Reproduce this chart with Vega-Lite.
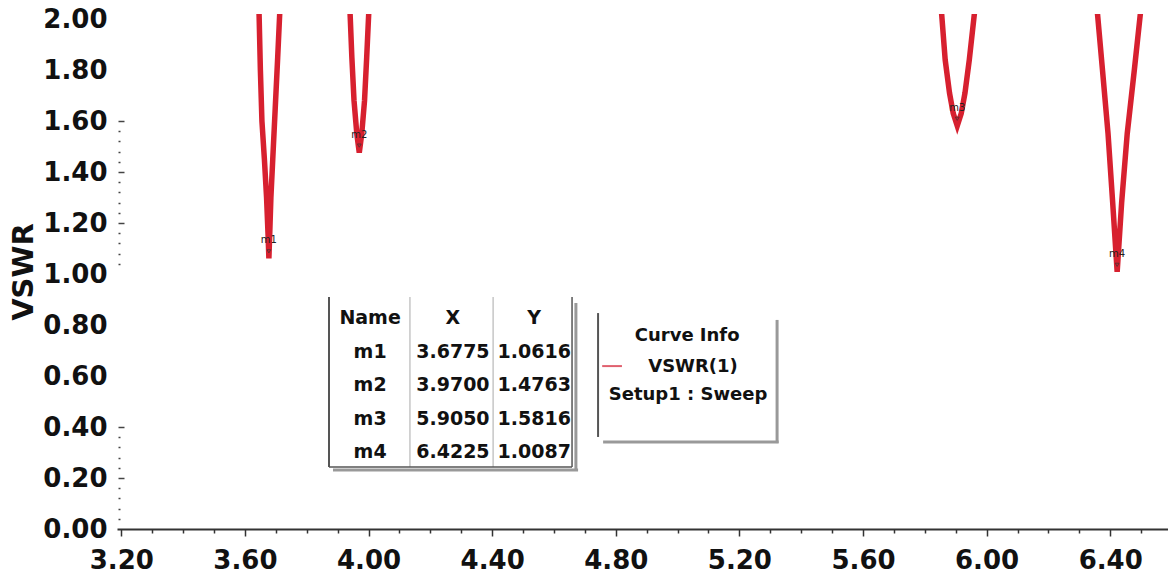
{
  "$schema": "https://vega.github.io/schema/vega-lite/v6.json",
  "width": 1051,
  "height": 515,
  "autosize": {"type": "none"},
  "padding": {"left": 117, "top": 14, "right": 0, "bottom": 54},
  "background": "white",
  "config": {
    "view": {"stroke": null},
    "axisX": {
      "orient": "bottom",
      "values": [3.2, 3.3333, 3.4667, 3.6, 3.7333, 3.8667, 4.0, 4.1333, 4.2667, 4.4, 4.5333, 4.6667, 4.8, 4.9333, 5.0667, 5.2, 5.3333, 5.4667, 5.6, 5.7333, 5.8667, 6.0, 6.1333, 6.2667, 6.4, 6.5333],
      "labelExpr": "abs(datum.value / 0.4 - round(datum.value / 0.4)) < 0.001 ? format(datum.value, '.2f') : ''",
      "title": null, "grid": false,
      "labelFont": "DejaVu Sans", "labelFontWeight": "bold", "labelFontSize": 26, "labelColor": "#111",
      "labelPadding": 11, "labelOverlap": false, "labelFlush": false, "labelBound": false,
      "tickColor": "#333", "tickWidth": 1.5,
      "tickSize": {"condition": {"test": "abs(datum.value / 0.4 - round(datum.value / 0.4)) < 0.001", "value": 7}, "value": 4},
      "domainColor": "#333", "domainWidth": 2
    }
  },
  "datasets": {
    "sweep": [
      {"freq": 3.645, "vswr": 2.06}, {"freq": 3.65, "vswr": 1.8}, {"freq": 3.655, "vswr": 1.6},
      {"freq": 3.663, "vswr": 1.45}, {"freq": 3.67, "vswr": 1.3}, {"freq": 3.675, "vswr": 1.15},
      {"freq": 3.6775, "vswr": 1.0616}, {"freq": 3.68, "vswr": 1.15}, {"freq": 3.684, "vswr": 1.3},
      {"freq": 3.69, "vswr": 1.45}, {"freq": 3.698, "vswr": 1.65}, {"freq": 3.706, "vswr": 1.85},
      {"freq": 3.714, "vswr": 2.06},
      {"freq": 3.939, "vswr": 2.06}, {"freq": 3.946, "vswr": 1.85}, {"freq": 3.953, "vswr": 1.68},
      {"freq": 3.962, "vswr": 1.55}, {"freq": 3.97, "vswr": 1.4763}, {"freq": 3.978, "vswr": 1.55},
      {"freq": 3.987, "vswr": 1.68}, {"freq": 3.994, "vswr": 1.85}, {"freq": 4.002, "vswr": 2.06},
      {"freq": 5.852, "vswr": 2.06}, {"freq": 5.866, "vswr": 1.84}, {"freq": 5.88, "vswr": 1.71},
      {"freq": 5.892, "vswr": 1.63}, {"freq": 5.905, "vswr": 1.5816}, {"freq": 5.918, "vswr": 1.63},
      {"freq": 5.93, "vswr": 1.71}, {"freq": 5.944, "vswr": 1.84}, {"freq": 5.964, "vswr": 2.06},
      {"freq": 6.356, "vswr": 2.06}, {"freq": 6.375, "vswr": 1.8}, {"freq": 6.393, "vswr": 1.55},
      {"freq": 6.408, "vswr": 1.28}, {"freq": 6.4225, "vswr": 1.0087}, {"freq": 6.437, "vswr": 1.28},
      {"freq": 6.455, "vswr": 1.55}, {"freq": 6.478, "vswr": 1.8}, {"freq": 6.501, "vswr": 2.06}
    ],
    "markers": [
      {"name": "m1", "freq": 3.6775, "vswr": 1.0616},
      {"name": "m2", "freq": 3.97, "vswr": 1.4763},
      {"name": "m3", "freq": 5.905, "vswr": 1.5816},
      {"name": "m4", "freq": 6.4225, "vswr": 1.0087}
    ]
  },
  "layer": [
    {
      "resolve": {"axis": {"y": "independent"}},
      "layer": [
        {
          "data": {"name": "sweep"},
          "mark": {"type": "line", "color": "#d7202f", "strokeWidth": 5.5, "clip": true},
          "encoding": {
            "x": {
              "field": "freq", "type": "quantitative",
              "scale": {"domain": [3.186, 6.587], "nice": false, "zero": false}
            },
            "y": {
              "field": "vswr", "type": "quantitative",
              "scale": {"domain": [0, 2.02], "nice": false, "zero": false},
              "axis": {
                "values": [0, 0.2, 0.4, 0.6, 0.8, 1.0, 1.2, 1.4, 1.6, 1.8, 2.0],
                "format": ".2f", "title": "VSWR",
                "titleFont": "DejaVu Sans", "titleFontWeight": "bold", "titleFontSize": 29, "titleColor": "#111", "titlePadding": 4,
                "labelFont": "DejaVu Sans", "labelFontWeight": "bold", "labelFontSize": 26, "labelColor": "#111",
                "labelPadding": 10, "labelOverlap": false, "labelFlush": false, "labelBound": false,
                "ticks": false, "domain": false, "grid": false
              }
            }
          }
        },
        {
          "data": {"name": "markers"},
          "mark": {"type": "text", "font": "DejaVu Sans", "fontSize": 10, "color": "#222", "dy": -18},
          "encoding": {
            "x": {"field": "freq", "type": "quantitative"},
            "y": {
              "field": "vswr", "type": "quantitative",
              "axis": {
                "orient": "left", "title": null, "labels": false, "domain": false, "grid": false,
                "values": [0.04, 0.08, 0.12, 0.16, 0.2, 0.24, 0.28, 0.32, 0.36, 0.4, 1.04, 1.08, 1.12, 1.16, 1.2, 1.24, 1.28, 1.32, 1.36, 1.4, 1.44, 1.48, 1.52, 1.56, 1.6],
                "tickColor": "#444", "tickWidth": 1.5, "offset": -1,
                "tickSize": {"condition": {"test": "abs(datum.value * 5 - round(datum.value * 5)) < 0.001", "value": -6}, "value": -2}
              }
            },
            "text": {"field": "name", "type": "nominal"}
          }
        },
        {
          "data": {"name": "markers"},
          "mark": {"type": "point", "shape": "triangle-down", "size": 14, "filled": false, "color": "#333", "strokeWidth": 1, "yOffset": -7},
          "encoding": {
            "x": {"field": "freq", "type": "quantitative"},
            "y": {"field": "vswr", "type": "quantitative", "axis": null}
          }
        },
        {
          "data": {"values": [{}]},
          "mark": {"type": "rule", "color": "#555", "strokeWidth": 2},
          "encoding": {
            "x": {"datum": 4.7427, "type": "quantitative"},
            "y": {"datum": 0.847, "type": "quantitative", "axis": null},
            "y2": {"datum": 0.361}
          }
        },
        {
          "data": {"values": [{}]},
          "mark": {"type": "rule", "color": "#999", "strokeWidth": 3},
          "encoding": {
            "x": {"datum": 5.322, "type": "quantitative"},
            "y": {"datum": 0.82, "type": "quantitative", "axis": null},
            "y2": {"datum": 0.337}
          }
        },
        {
          "data": {"values": [{}]},
          "mark": {"type": "rule", "color": "#999", "strokeWidth": 3},
          "encoding": {
            "x": {"datum": 4.759, "type": "quantitative"},
            "x2": {"datum": 5.327},
            "y": {"datum": 0.341, "type": "quantitative", "axis": null}
          }
        },
        {
          "data": {"values": [{}]},
          "mark": {"type": "rule", "color": "#e0606e", "strokeWidth": 2},
          "encoding": {
            "x": {"datum": 4.756, "type": "quantitative"},
            "x2": {"datum": 4.82},
            "y": {"datum": 0.639, "type": "quantitative", "axis": null}
          }
        },
        {
          "data": {"values": [{}]},
          "mark": {"type": "text", "text": "Curve Info", "font": "DejaVu Sans", "fontWeight": "bold", "fontSize": 18, "color": "#111", "align": "center", "baseline": "middle"},
          "encoding": {
            "x": {"datum": 5.031, "type": "quantitative"},
            "y": {"datum": 0.757, "type": "quantitative", "axis": null}
          }
        },
        {
          "data": {"values": [{}]},
          "mark": {"type": "text", "text": "VSWR(1)", "font": "DejaVu Sans", "fontWeight": "bold", "fontSize": 18, "color": "#111", "align": "center", "baseline": "middle"},
          "encoding": {
            "x": {"datum": 5.05, "type": "quantitative"},
            "y": {"datum": 0.635, "type": "quantitative", "axis": null}
          }
        },
        {
          "data": {"values": [{}]},
          "mark": {"type": "text", "text": "Setup1 : Sweep", "font": "DejaVu Sans", "fontWeight": "bold", "fontSize": 18, "color": "#111", "align": "center", "baseline": "middle"},
          "encoding": {
            "x": {"datum": 5.034, "type": "quantitative"},
            "y": {"datum": 0.525, "type": "quantitative", "axis": null}
          }
        }
      ]
    },
    {
      "layer": [
        {
          "data": {"values": [{}]},
          "mark": {"type": "text", "text": "Name", "font": "DejaVu Sans", "fontWeight": "bold", "fontSize": 19, "color": "#111", "align": "center", "baseline": "middle"},
          "encoding": {
            "x": {"datum": 4.005, "type": "quantitative"},
            "y": {
              "datum": 0, "type": "quantitative", "axis": null,
              "scale": {"domain": [-9.075, 6.298], "reverse": true, "nice": false, "zero": false}
            }
          }
        },
        {
          "data": {"values": [{}]},
          "mark": {"type": "text", "text": "X", "font": "DejaVu Sans", "fontWeight": "bold", "fontSize": 19, "color": "#111", "align": "center", "baseline": "middle"},
          "encoding": {
            "x": {"datum": 4.273, "type": "quantitative"},
            "y": {"datum": 0, "type": "quantitative", "axis": null}
          }
        },
        {
          "data": {"values": [{}]},
          "mark": {"type": "text", "text": "Y", "font": "DejaVu Sans", "fontWeight": "bold", "fontSize": 19, "color": "#111", "align": "center", "baseline": "middle"},
          "encoding": {
            "x": {"datum": 4.536, "type": "quantitative"},
            "y": {"datum": 0, "type": "quantitative", "axis": null}
          }
        },
        {
          "data": {"name": "markers"},
          "transform": [{"window": [{"op": "row_number", "as": "row"}]}],
          "mark": {"type": "text", "font": "DejaVu Sans", "fontWeight": "bold", "fontSize": 19, "color": "#111", "align": "center", "baseline": "middle"},
          "encoding": {
            "x": {"datum": 4.005, "type": "quantitative"},
            "y": {"field": "row", "type": "quantitative", "axis": null},
            "text": {"field": "name", "type": "nominal"}
          }
        },
        {
          "data": {"name": "markers"},
          "transform": [{"window": [{"op": "row_number", "as": "row"}]}],
          "mark": {"type": "text", "font": "DejaVu Sans", "fontWeight": "bold", "fontSize": 19, "color": "#111", "align": "center", "baseline": "middle"},
          "encoding": {
            "x": {"datum": 4.273, "type": "quantitative"},
            "y": {"field": "row", "type": "quantitative", "axis": null},
            "text": {"field": "freq", "type": "quantitative", "format": ".4f"}
          }
        },
        {
          "data": {"name": "markers"},
          "transform": [{"window": [{"op": "row_number", "as": "row"}]}],
          "mark": {"type": "text", "font": "DejaVu Sans", "fontWeight": "bold", "fontSize": 19, "color": "#111", "align": "center", "baseline": "middle"},
          "encoding": {
            "x": {"datum": 4.536, "type": "quantitative"},
            "y": {"field": "row", "type": "quantitative", "axis": null},
            "text": {"field": "vswr", "type": "quantitative", "format": ".4f"}
          }
        },
        {
          "data": {"values": [{}]},
          "mark": {"type": "rule", "color": "#555", "strokeWidth": 2},
          "encoding": {
            "x": {"datum": 3.872, "type": "quantitative"},
            "y": {"datum": -0.627, "type": "quantitative", "axis": null},
            "y2": {"datum": 4.448}
          }
        },
        {
          "data": {"values": [{}]},
          "mark": {"type": "rule", "color": "#aaa", "strokeWidth": 1},
          "encoding": {
            "x": {"datum": 4.134, "type": "quantitative"},
            "y": {"datum": -0.627, "type": "quantitative", "axis": null},
            "y2": {"datum": 4.448}
          }
        },
        {
          "data": {"values": [{}]},
          "mark": {"type": "rule", "color": "#aaa", "strokeWidth": 1},
          "encoding": {
            "x": {"datum": 4.403, "type": "quantitative"},
            "y": {"datum": -0.627, "type": "quantitative", "axis": null},
            "y2": {"datum": 4.448}
          }
        },
        {
          "data": {"values": [{}]},
          "mark": {"type": "rule", "color": "#555", "strokeWidth": 1.5},
          "encoding": {
            "x": {"datum": 4.6585, "type": "quantitative"},
            "y": {"datum": -0.627, "type": "quantitative", "axis": null},
            "y2": {"datum": 4.448}
          }
        },
        {
          "data": {"values": [{}]},
          "mark": {"type": "rule", "color": "#999", "strokeWidth": 3},
          "encoding": {
            "x": {"datum": 4.671, "type": "quantitative"},
            "y": {"datum": -0.448, "type": "quantitative", "axis": null},
            "y2": {"datum": 4.537}
          }
        },
        {
          "data": {"values": [{}]},
          "mark": {"type": "rule", "color": "#555", "strokeWidth": 1.5},
          "encoding": {
            "x": {"datum": 3.872, "type": "quantitative"},
            "x2": {"datum": 4.6585},
            "y": {"datum": 4.448, "type": "quantitative", "axis": null}
          }
        },
        {
          "data": {"values": [{}]},
          "mark": {"type": "rule", "color": "#999", "strokeWidth": 3},
          "encoding": {
            "x": {"datum": 3.885, "type": "quantitative"},
            "x2": {"datum": 4.678},
            "y": {"datum": 4.537, "type": "quantitative", "axis": null}
          }
        }
      ]
    }
  ],
  "resolve": {"scale": {"y": "independent"}}
}
